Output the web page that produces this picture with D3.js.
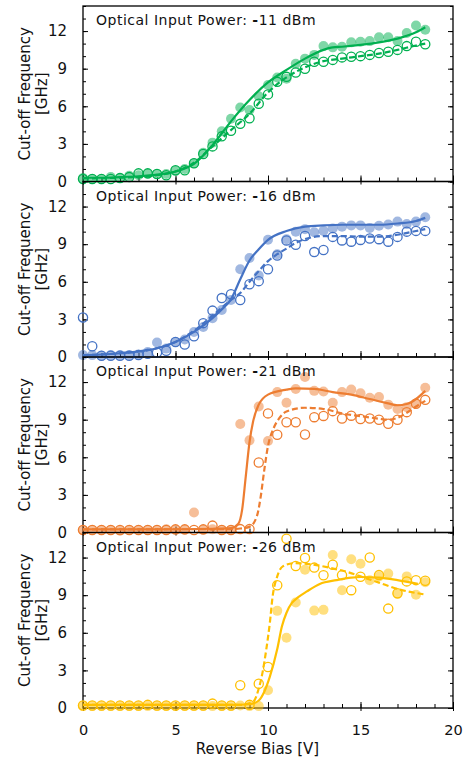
<!DOCTYPE html>
<html>
<head>
<meta charset="utf-8">
<script src="https://cdn.jsdelivr.net/npm/d3@7"></script>
<style>
  body { margin: 0; background: #fff; }
  svg { display: block; font-family: "DejaVu Sans", Verdana, sans-serif; }
</style>
</head>
<body>
<div id="viz"></div>
<script>
// Reverse bias steps [V]
const bias = [0,0.5,1,1.5,2,2.5,3,3.5,4,4.5,5,5.5,6,6.5,7,7.5,8,8.5,9,9.5,
              10,10.5,11,11.5,12,12.5,13,13.5,14,14.5,15,15.5,16,16.5,17,17.5,18,18.5];

const powers = ["-11", "-16", "-21", "-26"];

// measured cut-off frequency [GHz], filled markers and open markers
const filled11 = [0.27,0.2,0.2,0.35,0.27,0.45,0.5,0.6,0.6,0.6,0.85,1.0,1.45,2.3,3.1,4.0,5.0,5.9,5.7,6.8,
                  7.7,8.3,8.2,9.4,9.8,10.1,10.8,10.7,10.75,11.1,11.15,11.2,11.5,11.5,11.2,11.85,12.45,12.1];
const open11   = [0.2,0.2,0.2,0.2,0.27,0.35,0.65,0.65,0.6,0.5,0.9,0.9,1.45,2.2,2.8,3.6,4.05,4.6,5.05,6.2,
                  6.95,7.95,8.35,8.7,9.0,9.55,9.55,9.7,9.9,9.95,10.0,10.1,10.25,10.35,10.5,10.8,11.15,10.95];

const filled16 = [0.15,0.15,0.1,0.15,0.15,0.15,0.2,0.4,1.15,0.67,1.2,1.4,2.0,2.4,3.1,3.75,4.55,7.0,7.9,6.5,
                  9.35,8.2,9.4,10.0,10.2,9.95,10.06,10.25,10.4,10.5,10.5,10.3,10.47,10.57,10.8,10.6,10.8,11.15];
const open16   = [3.15,0.86,0.1,0.1,0.1,0.1,0.15,0.25,0.35,0.5,1.2,1.0,1.65,2.7,3.7,4.7,5.0,4.55,5.8,6.05,
                  7.0,8.1,9.3,8.95,9.65,8.37,8.53,9.58,9.3,9.2,9.34,9.45,9.4,9.2,9.58,10.0,10.06,10.06];

const filled21 = [0.2,0.2,0.2,0.2,0.15,0.2,0.2,0.2,0.2,0.25,0.2,0.2,1.6,0.2,0.25,0.2,0.2,8.65,7.35,10.05,
                  7.3,11.2,10.35,11.45,12.4,11.3,11.25,10.35,11.2,11.4,11.1,10.75,10.8,10.2,9.85,10.0,10.3,11.55];
const open21   = [0.2,0.2,0.2,0.2,0.2,0.2,0.2,0.2,0.2,0.2,0.25,0.25,0.2,0.25,0.55,0.2,0.2,0.27,0.27,5.58,
                  9.5,7.8,8.8,8.8,7.82,9.2,9.3,9.68,9.1,9.32,9.06,9.1,9.0,8.67,9.0,9.6,10.27,10.58];

const filled26 = [0.15,0.15,0.15,0.15,0.15,0.15,0.15,0.15,0.15,0.15,0.15,0.15,0.15,0.15,0.15,0.15,0.15,0.2,0.15,0.15,
                  1.42,7.75,5.6,8.42,11.03,7.77,7.83,12.2,9.4,11.87,11.5,10.19,10.5,10.72,9.1,10.5,9.03,10.03];
const open26   = [0.2,0.2,0.2,0.2,0.2,0.2,0.2,0.25,0.2,0.2,0.2,0.2,0.2,0.2,0.35,0.2,0.2,1.82,0.25,1.93,
                  3.27,9.79,13.5,11.33,11.97,11.2,10.59,11.43,10.6,9.4,10.47,12.0,10.6,7.93,9.15,10.1,10.2,10.15];

// fitted curves [V, GHz]
const fitSolid11  = [[0,0.3],[1,0.3],[2,0.35],[3,0.42],[4,0.55],[5,0.8],[6,1.4],[7,2.9],[8,4.8],[9,6.5],[10,7.9],
                     [11,8.9],[12,9.8],[13,10.5],[13.5,10.7],[14,10.75],[15,10.9],[16,11.1],[17,11.4],[18,11.9],[18.5,12.3]];
const fitDashed11 = [[0,0.25],[2,0.3],[4,0.5],[5,0.8],[6,1.5],[7,2.8],[8,4.1],[9,5.4],[10,7.1],[11,8.3],[12,9.1],
                     [13,9.6],[14,9.8],[15,10.0],[16,10.2],[17,10.5],[18,10.85],[18.5,11.0]];

const fitSolid16  = [[0,0.15],[1,0.2],[2,0.3],[3,0.45],[4,0.7],[5,1.2],[6,2.0],[7,3.1],[7.5,3.8],[8,4.6],[8.5,6.2],
                     [9,7.7],[9.5,8.6],[10,9.35],[11,10.05],[12,10.4],[13,10.5],[14,10.55],[15,10.55],[16,10.55],
                     [17,10.65],[18,10.85],[18.5,11.1]];
const fitDashed16 = [[0,0.15],[2,0.3],[4,0.7],[5,1.2],[6,2.1],[7,3.3],[8,4.55],[8.5,5.1],[9,6.0],[9.5,6.85],[10,7.65],
                     [10.5,8.2],[11,8.65],[11.5,9.1],[12,9.4],[13,9.65],[14,9.65],[15,9.6],[16,9.6],[17,9.75],
                     [18,10.05],[18.5,10.2]];

const fitSolid21  = [[0,0.25],[4,0.25],[7,0.3],[8,0.35],[8.4,0.7],[8.6,1.8],[8.8,4.5],[9,7.2],[9.2,8.9],[9.5,10.2],
                     [10,11.0],[11,11.4],[11.5,11.5],[12.5,11.45],[13.5,11.2],[14.5,11.0],[15.5,10.65],[16.5,10.3],
                     [17,10.15],[17.5,10.25],[18,10.65],[18.5,11.3]];
const fitDashed21 = [[0,0.25],[8,0.27],[8.5,0.32],[9,0.45],[9.4,1.3],[9.6,2.8],[9.8,5.0],[10,6.9],[10.3,8.3],
                     [10.6,9.1],[11,9.65],[12,9.95],[13,9.85],[14,9.5],[15,9.28],[16,9.08],[16.5,9.0],[17,9.15],
                     [17.5,9.55],[18,10.05],[18.5,10.5]];

const fitSolid26  = [[0,0.25],[8,0.25],[9,0.3],[9.5,0.6],[9.8,1.3],[10.1,2.5],[10.5,4.7],[10.75,6.5],[11,7.6],
                     [11.3,8.4],[11.6,8.8],[12.1,9.3],[12.8,9.9],[13.7,10.2],[14.5,10.4],[15,10.45],[16,10.4],
                     [17,10.2],[18.1,9.9]];
const fitDashed26 = [[0,0.25],[8.5,0.25],[9.2,0.5],[9.5,1.55],[9.7,2.8],[9.9,4.6],[10.1,6.8],[10.25,8.9],[10.5,10.5],
                     [10.8,11.3],[11.4,11.55],[12.1,11.5],[13.3,11.2],[14.4,10.8],[15,10.5],[16,10.0],[17,9.5],[18.5,9.05]];

const xTicks = [0, 5, 10, 15, 20];
const yTicks = [0, 3, 6, 9, 12];

const colors = ["#00b050", "#4472c4", "#ed7d31", "#ffc000"];

const panels = [
  {power: powers[0], filled: filled11, open: open11, solid: fitSolid11, dashed: fitDashed11},
  {power: powers[1], filled: filled16, open: open16, solid: fitSolid16, dashed: fitDashed16},
  {power: powers[2], filled: filled21, open: open21, solid: fitSolid21, dashed: fitDashed21},
  {power: powers[3], filled: filled26, open: open26, solid: fitSolid26, dashed: fitDashed26}
];

var margin = {top: 6, right: 14, bottom: 52, left: 83},
    width = 467 - margin.left - margin.right,
    panelH = 175.5;

var svg = d3.select("#viz")
    .append("svg")
    .attr("width", 467)
    .attr("height", 760);

var x = d3.scaleLinear().domain([0, 20]).range([0, width]);
var y = d3.scaleLinear().domain([0, 14]).range([panelH, 0]);

const line = d3.line()
    .x(d => x(d[0]))
    .y(d => y(d[1]))
    .curve(d3.curveMonotoneX);

panels.forEach((p, i) => {
  const color = colors[i];
  const g = svg.append("g")
      .attr("transform", "translate(" + margin.left + "," + (margin.top + i * panelH) + ")");

  // frame
  g.append("rect")
    .attr("width", width).attr("height", panelH)
    .attr("fill", "none").attr("stroke", "#000").attr("stroke-width", 1.3);

  // left axis: minor + major with labels
  g.append("g")
    .call(d3.axisLeft(y).tickValues(d3.range(0, 15)).tickSize(-3).tickFormat(""))
    .call(a => a.select(".domain").remove());
  g.append("g")
    .call(d3.axisLeft(y).tickValues(yTicks).tickSize(-5).tickPadding(16))
    .call(a => a.select(".domain").remove())
    .call(a => a.selectAll("text").attr("font-size", 15).attr("font-family", "DejaVu Sans").attr("fill", "#111"));

  // right axis
  g.append("g")
    .attr("transform", "translate(" + width + ",0)")
    .call(d3.axisRight(y).tickValues(d3.range(0, 15)).tickSize(-3).tickFormat(""))
    .call(a => a.select(".domain").remove());
  g.append("g")
    .attr("transform", "translate(" + width + ",0)")
    .call(d3.axisRight(y).tickValues(yTicks).tickSize(-5).tickFormat(""))
    .call(a => a.select(".domain").remove());

  // bottom axis: inward minor, crossing major
  g.append("g")
    .attr("transform", "translate(0," + panelH + ")")
    .call(d3.axisBottom(x).tickValues(d3.range(0, 21)).tickSize(-4).tickFormat(""))
    .call(a => a.select(".domain").remove());
  const major = g.append("g")
    .attr("transform", "translate(0," + panelH + ")")
    .call(d3.axisBottom(x).tickValues(xTicks).tickSize(-6).tickFormat(""))
    .call(a => a.select(".domain").remove());
  major.selectAll(".tick line").attr("y2", -6).attr("y1", 3);

  // markers
  g.append("g").selectAll("circle")
    .data(bias.map((v, k) => [v, p.filled[k]]))
    .join("circle")
    .attr("cx", d => x(d[0])).attr("cy", d => y(d[1]))
    .attr("r", 5)
    .attr("fill", color).attr("fill-opacity", 0.5);

  g.append("g").selectAll("circle")
    .data(bias.map((v, k) => [v, p.open[k]]))
    .join("circle")
    .attr("cx", d => x(d[0])).attr("cy", d => y(d[1]))
    .attr("r", 4.6)
    .attr("fill", "none").attr("stroke", color).attr("stroke-width", 1.3);

  // fits
  g.append("path").datum(p.dashed)
    .attr("fill", "none").attr("stroke", color)
    .attr("stroke-width", 2.2).attr("stroke-dasharray", "6,3")
    .attr("d", line);
  g.append("path").datum(p.solid)
    .attr("fill", "none").attr("stroke", color)
    .attr("stroke-width", 2.2)
    .attr("d", line);

  // panel caption
  const cap = g.append("text")
    .attr("x", 13).attr("y", 19)
    .attr("font-size", 14).attr("letter-spacing", 0.5).attr("fill", "#111");
  cap.append("tspan").text("Optical Input Power: ");
  cap.append("tspan").attr("font-weight", "bold").text(p.power.slice(0, 1));
  cap.append("tspan").text(p.power.slice(1) + " dBm");

  // y title
  const yt = svg.append("g")
    .attr("transform", "translate(0," + (margin.top + i * panelH + panelH / 2) + ")");
  yt.append("text")
    .attr("transform", "translate(25,0) rotate(-90)")
    .attr("text-anchor", "middle").attr("dominant-baseline", "central")
    .attr("font-size", 15).attr("fill", "#111")
    .text("Cut-off Frequency");
  yt.append("text")
    .attr("transform", "translate(42,0) rotate(-90)")
    .attr("text-anchor", "middle").attr("dominant-baseline", "central")
    .attr("font-size", 15).attr("fill", "#111")
    .text("[GHz]");
});

// x tick labels under the last panel
const bottomY = margin.top + 4 * panelH;
svg.append("g")
  .attr("transform", "translate(" + margin.left + "," + bottomY + ")")
  .call(d3.axisBottom(x).tickValues(xTicks).tickSize(0).tickPadding(17))
  .call(a => a.select(".domain").remove())
  .call(a => a.selectAll("text").attr("font-size", 14.5).attr("font-family", "DejaVu Sans").attr("fill", "#111"));

svg.append("text")
  .attr("x", 257.5).attr("y", 754)
  .attr("text-anchor", "middle")
  .attr("font-size", 15).attr("fill", "#111")
  .text("Reverse Bias [V]");
</script>
</body>
</html>
